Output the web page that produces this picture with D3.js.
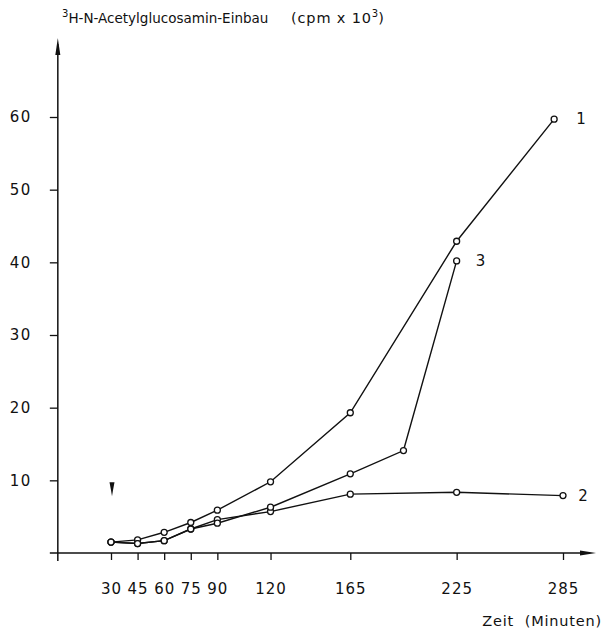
<!DOCTYPE html>
<html><head><meta charset="utf-8">
<script src="https://cdn.jsdelivr.net/npm/d3@7"></script>
<style>body{margin:0;background:#fff}svg{display:block}text{font-family:"DejaVu Sans",sans-serif;fill:#111}</style>
</head><body>
<svg id="c" width="607" height="632"></svg>
<script>
const xTicks = [30,45,60,75,90,120,165,225,285];
const yTicks = [10,20,30,40,50,60];
const times1 = [30,45,60,75,90,120,165,225,280];
const series1 = [1.5,1.8,2.85,4.2,5.9,9.8,19.3,42.9,59.7];
const times2 = [30,45,60,75,90,120,165,225,285];
const series2 = [1.5,1.3,1.7,3.3,4.6,5.7,8.1,8.35,7.9];
const times3 = [30,45,60,75,90,120,165,195,225];
const series3 = [1.5,1.3,1.7,3.3,4.1,6.3,10.9,14.1,40.2];
const seriesLabels = ["1","2","3"];
const arrowTime = 30;

const svg = d3.select("#c");
const x = d3.scaleLinear().domain([30,285]).range([111,563]);
const y = d3.scaleLinear().domain([0,60]).range([553,117]);
const ink = "#111";
const x0 = x(0);

// axes lines
svg.append("line").attr("x1",x0).attr("x2",x0).attr("y1",y(0)+8).attr("y2",44)
  .attr("stroke",ink).attr("stroke-width",1.5);
svg.append("path").attr("d",`M${x0},38 L${x0-2.5},55 L${x0+2.5},55 Z`).attr("fill",ink);
svg.append("line").attr("x1",x0-8).attr("x2",588).attr("y1",y(0)).attr("y2",y(0))
  .attr("stroke",ink).attr("stroke-width",1.5);
svg.append("path").attr("d",`M596,${y(0)} L580,${y(0)-2.5} L580,${y(0)+2.5} Z`).attr("fill",ink);

// y ticks
const ya = svg.append("g").attr("transform",`translate(${x0},0)`)
  .call(d3.axisLeft(y).tickValues(yTicks).tickSize(8).tickPadding(18).tickFormat(d3.format("d")));
ya.select(".domain").remove();
ya.selectAll("line").attr("stroke",ink).attr("stroke-width",1.3);
ya.selectAll("text").attr("font-size",15).attr("letter-spacing",1.5).attr("font-family","DejaVu Sans").attr("fill",ink);

// x ticks
const xa = svg.append("g").attr("transform",`translate(0,${y(0)})`)
  .call(d3.axisBottom(x).tickValues(xTicks).tickSize(7).tickPadding(23).tickFormat(d3.format("d")));
xa.select(".domain").remove();
xa.selectAll("line").attr("stroke",ink).attr("stroke-width",1.3);
xa.selectAll("text").attr("font-size",15).attr("letter-spacing",1).attr("font-family","DejaVu Sans").attr("fill",ink);

// series
const line = d3.line().x(d=>x(d[0])).y(d=>y(d[1]));
const all = [d3.zip(times1,series1), d3.zip(times2,series2), d3.zip(times3,series3)];
all.forEach(pts=>{
  svg.append("path").attr("d",line(pts)).attr("fill","none").attr("stroke",ink).attr("stroke-width",1.4);
});
all.forEach(pts=>{
  svg.selectAll(null).data(pts).enter().append("circle")
    .attr("cx",d=>x(d[0])).attr("cy",d=>y(d[1])).attr("r",3)
    .attr("fill","#fff").attr("stroke",ink).attr("stroke-width",1.3);
});

// series labels
const lastPts = [[times1[times1.length-1],series1[series1.length-1]],
                 [times2[times2.length-1],series2[series2.length-1]],
                 [times3[times3.length-1],series3[series3.length-1]]];
const lblOffsets = [27,20,24];
lastPts.forEach((p,i)=>{
  svg.append("text").attr("x",x(p[0])+lblOffsets[i]).attr("y",y(p[1])+5)
    .attr("text-anchor","middle").attr("font-size",15).text(seriesLabels[i]);
});

// arrow marker at 30 min
const ax = x(arrowTime)+1, ay = y(10)+2;
svg.append("path").attr("d",`M${ax-2.5},${ay} L${ax+2.5},${ay} L${ax+1},${ay+8} L${ax},${ay+14} L${ax-1},${ay+8} Z`).attr("fill",ink);

// title
const t = svg.append("text").attr("x",62).attr("y",23).attr("font-size",14.5);
t.append("tspan").attr("font-size",10).attr("dy",-6).text("3");
t.append("tspan").attr("dy",6).attr("textLength",200).attr("lengthAdjust","spacingAndGlyphs").text("H-N-Acetylglucosamin-Einbau");
t.append("tspan").attr("x",291).attr("textLength",80).attr("lengthAdjust","spacing").text("(cpm x 10");
t.append("tspan").attr("font-size",10).attr("dy",-6).text("3");
t.append("tspan").attr("dy",6).text(")");

// x axis label
svg.append("text").attr("x",602).attr("y",626).attr("text-anchor","end")
  .attr("font-size",14.5).attr("letter-spacing",0.8).attr("xml:space","preserve").text("Zeit  (Minuten)");
</script>
</body></html>
